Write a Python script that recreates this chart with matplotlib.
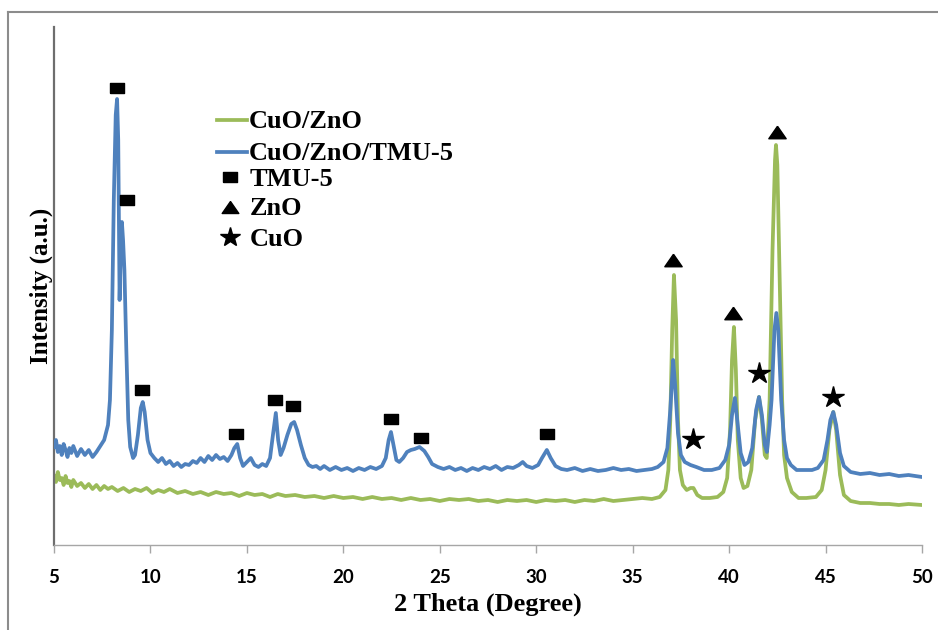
import matplotlib
matplotlib.use("Agg")
import matplotlib.pyplot as plt
from matplotlib.lines import Line2D

# ---------------- data ----------------
blue_x = [5.0, 5.1, 5.2, 5.3, 5.4, 5.5, 5.6, 5.7, 5.8, 5.9, 6.0, 6.2, 6.4, 6.6, 6.8, 7.0, 7.2, 7.4, 7.6,
          7.8, 7.9, 8.0, 8.1, 8.2, 8.27, 8.33, 8.4, 8.45, 8.52, 8.58, 8.65, 8.75, 8.85, 8.95, 9.1, 9.2,
          9.35, 9.5, 9.6, 9.7, 9.85, 10.0, 10.2, 10.4, 10.6, 10.8, 11.0, 11.2, 11.4, 11.6, 11.8, 12.0,
          12.2, 12.4, 12.6, 12.8, 13.0, 13.2, 13.4, 13.6, 13.8, 14.0, 14.2, 14.35, 14.5, 14.65, 14.8,
          15.0, 15.2, 15.4, 15.6, 15.8, 16.0, 16.2, 16.35, 16.5, 16.62, 16.75, 16.9, 17.1, 17.3, 17.45,
          17.6, 17.8, 18.0, 18.2, 18.4, 18.6, 18.8, 19.0, 19.3, 19.6, 19.9, 20.2, 20.5, 20.8, 21.1,
          21.4, 21.7, 22.0, 22.2, 22.35, 22.47, 22.6, 22.75, 22.9, 23.1, 23.3, 23.5, 23.7, 23.95, 24.2,
          24.4, 24.6, 24.9, 25.2, 25.5, 25.8, 26.1, 26.4, 26.7, 27.0, 27.3, 27.6, 27.9, 28.2, 28.5,
          28.8, 29.1, 29.3, 29.5, 29.8, 30.1, 30.3, 30.55, 30.75, 31.0, 31.3, 31.6, 32.0, 32.4, 32.8,
          33.2, 33.6, 34.0, 34.4, 34.8, 35.2, 35.6, 36.0, 36.3, 36.6, 36.8, 36.95, 37.1, 37.2, 37.35,
          37.5, 37.7, 38.0, 38.3, 38.7, 39.1, 39.5, 39.8, 40.0, 40.15, 40.3, 40.45, 40.6, 40.8, 41.0,
          41.2, 41.4, 41.55, 41.7, 41.85, 41.96, 42.1, 42.2, 42.35, 42.45, 42.55, 42.7, 42.85, 43.0,
          43.2, 43.5, 43.9, 44.3, 44.6, 44.9, 45.1, 45.25, 45.4, 45.55, 45.75, 45.95, 46.3, 46.8,
          47.3, 47.8, 48.3, 48.8, 49.3, 50.0]
blue_y = [98, 105, 93, 99, 90, 101, 95, 88, 97, 92, 99, 89, 96, 90, 95, 88, 93, 99, 105,
          120, 145, 215, 345, 430, 446, 405, 245, 285, 323, 305, 275, 195, 125, 98, 87, 90,
          110, 137, 143, 133, 105, 92, 87, 83, 87, 81, 84, 79, 82, 78, 81, 80,
          84, 82, 87, 83, 89, 85, 90, 86, 88, 84, 90, 97, 101, 87, 79,
          83, 87, 80, 78, 81, 79, 87, 110, 132, 105, 90, 97, 110, 121, 123,
          115, 100, 87, 80, 78, 79, 76, 79, 75, 78, 75, 77, 74, 77, 75,
          78, 76, 79, 87, 105, 113, 100, 85, 83, 87, 93, 95, 96, 98, 94,
          88, 81, 78, 76, 78, 75, 77, 74, 77, 75, 78, 76, 79, 75, 78,
          77, 80, 83, 79, 77, 80, 87, 95, 87, 79, 76, 75, 77, 74, 76,
          74, 75, 77, 75, 76, 74, 75, 76, 78, 83, 97, 135, 185, 160, 112,
          90, 83, 80, 78, 75, 75, 77, 85, 100, 130, 147, 120, 92, 80, 83,
          97, 135, 148, 130, 100, 93, 120, 145, 215, 232, 215, 145, 105, 87,
          80, 75, 75, 75, 77, 85, 105, 125, 133, 120, 92, 79, 73, 71,
          72, 70, 71, 69, 70, 68]

green_x = [5.0, 5.1, 5.2, 5.3, 5.4, 5.5, 5.6, 5.7, 5.8, 5.9, 6.0, 6.2, 6.4, 6.6, 6.8, 7.0, 7.2, 7.4,
           7.6, 7.8, 8.0, 8.3, 8.6, 8.9, 9.2, 9.5, 9.8, 10.1, 10.4, 10.7, 11.0, 11.4, 11.8, 12.2, 12.6,
           13.0, 13.4, 13.8, 14.2, 14.6, 15.0, 15.4, 15.8, 16.2, 16.6, 17.0, 17.5, 18.0, 18.5, 19.0,
           19.5, 20.0, 20.5, 21.0, 21.5, 22.0, 22.5, 23.0, 23.5, 24.0, 24.5, 25.0, 25.5, 26.0, 26.5,
           27.0, 27.5, 28.0, 28.5, 29.0, 29.5, 30.0, 30.5, 31.0, 31.5, 32.0, 32.5, 33.0, 33.5, 34.0,
           34.5, 35.0, 35.5, 36.0, 36.4, 36.7, 36.85, 36.95, 37.05, 37.14, 37.25, 37.35, 37.45, 37.6,
           37.8, 38.0, 38.15, 38.35, 38.6, 39.0, 39.4, 39.7, 39.9, 40.05, 40.15, 40.25, 40.35, 40.45,
           40.6, 40.75, 40.95, 41.15, 41.35, 41.55, 41.7, 41.85, 41.95, 42.1, 42.25, 42.38, 42.43,
           42.5, 42.62, 42.75, 42.85, 43.0, 43.25, 43.6, 44.0, 44.5, 44.8, 45.0, 45.2, 45.4, 45.55,
           45.75, 45.95, 46.3, 46.8, 47.3, 47.8, 48.3, 48.8, 49.3, 50.0]
green_y = [69, 63, 73, 65, 67, 60, 69, 62, 64, 58, 65, 59, 62, 57, 61, 56, 60, 55,
           59, 56, 58, 54, 57, 53, 56, 54, 57, 52, 55, 53, 56, 52, 54, 51, 53,
           50, 53, 51, 52, 49, 52, 50, 51, 48, 51, 49, 50, 48, 49, 47,
           49, 47, 48, 46, 48, 46, 47, 45, 47, 45, 46, 44, 46, 45, 46,
           44, 45, 43, 45, 44, 45, 43, 45, 44, 45, 43, 45, 44, 46, 44,
           45, 46, 47, 46, 48, 55, 75, 125, 215, 270, 225, 125, 75, 60,
           55, 57, 57, 50, 47, 47, 48, 53, 67, 115, 185, 218, 175, 105,
           67, 57, 59, 75, 125, 148, 125, 90, 87, 145, 295, 385, 400,
           380, 265, 145, 90, 67, 53, 47, 47, 48, 55, 75, 115, 133, 115,
           70, 50, 44, 42, 42, 41, 41, 40, 41, 40]

tmu_x = [8.27, 8.78, 9.56, 14.43, 16.46, 17.39, 22.47, 24.03, 30.56]
tmu_y = [457, 345, 155, 111, 145, 139, 126, 107, 111]
zno_x = [37.09, 40.2, 42.48]
zno_y = [285, 232, 413]
cuo_x = [38.13, 41.55, 45.38]
cuo_y = [106, 172, 148]

xticks = [5, 10, 15, 20, 25, 30, 35, 40, 45, 50]
series_names = ["CuO/ZnO", "CuO/ZnO/TMU-5"]
marker_names = ["TMU-5", "ZnO", "CuO"]

# ---------------- style ----------------
GREEN = "#9BBB59"
BLUE = "#4F81BD"
SERIF = ["Liberation Serif", "DejaVu Serif"]
rect_marker = [(-1.3, -1.0), (1.3, -1.0), (1.3, 1.0), (-1.3, 1.0), (-1.3, -1.0)]
tri_marker = [(0.0, 0.72), (-1.0, -0.72), (1.0, -0.72), (0.0, 0.72)]

fig = plt.figure(figsize=(9.38, 6.30), dpi=100)
ax = fig.add_axes([54 / 938, 85 / 630, 868 / 938, 518 / 630])

ax.plot(green_x, green_y, color=GREEN, lw=2.7, zorder=2)
ax.plot(blue_x, blue_y, color=BLUE, lw=2.7, zorder=3)

ax.plot(tmu_x, tmu_y, ls="none", marker=rect_marker, ms=10, color="black", zorder=4)
ax.plot(zno_x, zno_y, ls="none", marker=tri_marker, ms=12.5, color="black", zorder=4)
ax.plot(cuo_x, cuo_y, ls="none", marker="*", ms=16, color="black", zorder=4)

ax.set_xlim(5, 50)
ax.set_ylim(0, 518)
ax.set_xticks(xticks)
ax.set_xticklabels([str(t) for t in xticks])
ax.set_yticks([])
for lab in ax.get_xticklabels():
    lab.set_fontfamily(["Lato", "DejaVu Sans"])
    lab.set_fontweight("bold")
    lab.set_fontsize(13.5)
ax.tick_params(axis="x", direction="out", length=6, width=1, color="#a6a6a6", pad=11)

for s in ["top", "right"]:
    ax.spines[s].set_visible(False)
ax.spines["bottom"].set_color("#a6a6a6")
ax.spines["bottom"].set_linewidth(1.0)
ax.spines["left"].set_color("#6e6e6e")
ax.spines["left"].set_linewidth(1.6)

ax.set_xlabel("2 Theta (Degree)", family=SERIF, weight="bold", fontsize=19, labelpad=5)
ax.set_ylabel("Intensity (a.u.)", family=SERIF, weight="bold", fontsize=18)
ax.yaxis.set_label_coords(-1 / 868, 0.5)

# ---------------- manual legend (figure pixel positions) ----------------
def fx(px):
    return px / 938

def fy(py):
    return 1 - py / 630

legend_font = dict(family=SERIF, weight="bold", fontsize=19, va="center", ha="left", color="black")
fig.add_artist(Line2D([fx(217), fx(247)], [fy(120), fy(120)], color=GREEN, lw=2.7))
fig.text(fx(249), fy(121), series_names[0], **legend_font)
fig.add_artist(Line2D([fx(217), fx(247)], [fy(152), fy(152)], color=BLUE, lw=2.7))
fig.text(fx(249), fy(153), series_names[1], **legend_font)
fig.add_artist(Line2D([fx(230)], [fy(177)], ls="none", marker=rect_marker, ms=10, color="black"))
fig.text(fx(250), fy(179), marker_names[0], **legend_font)
fig.add_artist(Line2D([fx(230)], [fy(207)], ls="none", marker=tri_marker, ms=12, color="black"))
fig.text(fx(250), fy(209), marker_names[1], **legend_font)
fig.add_artist(Line2D([fx(230)], [fy(237)], ls="none", marker="*", ms=15, color="black"))
fig.text(fx(250), fy(239), marker_names[2], **legend_font)

# outer frame lines (top and left)
fig.add_artist(Line2D([fx(8), 1.0], [fy(12), fy(12)], color="#8c8c8c", lw=1.5))
fig.add_artist(Line2D([fx(8), fx(8)], [fy(12), 0.0], color="#8c8c8c", lw=1.5))

fig.savefig("out.png", dpi=100)
